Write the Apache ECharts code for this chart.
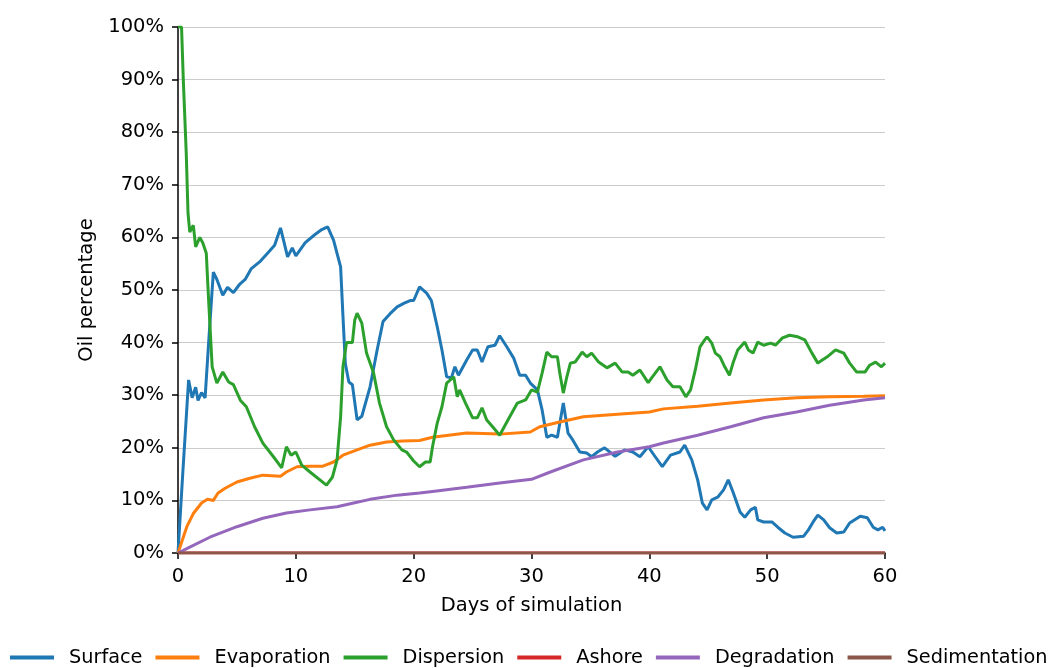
<!DOCTYPE html>
<html>
<head>
<meta charset="utf-8">
<script src="https://cdn.jsdelivr.net/npm/echarts@6/dist/echarts.min.js"></script>
<style>
  html, body { margin: 0; padding: 0; background: #fff; }
  #chart { width: 1051px; height: 668px; }
</style>
</head>
<body>
<div id="chart"></div>
<script>
// Oil weathering over 60 days of simulation

const seriesNames = ['Surface', 'Evaporation', 'Dispersion', 'Ashore', 'Degradation', 'Sedimentation'];
const seriesColors = ['#1f77b4', '#ff7f0e', '#2ca02c', '#d62728', '#9467bd', '#8c564b'];

// [day, percent]
const surface = [
  [0,0],[0.4,15],[0.9,32.9],[1.2,29.5],[1.5,31.5],[1.7,29],[2.0,30.5],[2.3,29.5],[2.6,40],[3.0,53.4],
  [3.3,52],[3.8,49],[4.2,50.5],[4.7,49.5],[5.2,51],[5.7,52],[6.2,54],[7.0,55.5],[7.6,57],[8.2,58.5],
  [8.7,61.8],[9.3,56.3],[9.7,58],[10.0,56.5],[10.8,59],[11.6,60.5],[12.2,61.5],[12.7,62],[13.2,59.5],
  [13.8,54.4],[14.0,45],[14.2,36],[14.5,32.5],[14.8,32],[15.2,25.3],[15.6,26],[16.3,31.6],[16.9,38.6],
  [17.4,44],[18.0,45.5],[18.6,46.8],[19.2,47.5],[19.7,48],[20.0,48],[20.5,50.6],[21.1,49.4],[21.5,48],
  [22.0,43],[22.4,38.6],[22.8,33.5],[23.2,33.3],[23.5,35.4],[23.8,33.8],[24.5,36.7],[25.0,38.6],
  [25.4,38.6],[25.8,36.3],[26.3,39.2],[26.9,39.5],[27.3,41.3],[27.9,39.2],[28.5,37],[29.0,33.8],
  [29.5,33.8],[29.9,32.3],[30.5,31],[30.9,27.2],[31.3,22],[31.7,22.4],[32.2,22],[32.7,28.5],[33.1,22.8],
  [33.5,21.5],[34.1,19.2],[34.7,19],[35.1,18.3],[35.6,19.2],[36.2,20],[37.1,18.4],[37.9,19.6],
  [38.6,19.2],[39.2,18.3],[39.9,20.2],[40.5,18.3],[41.1,16.4],[41.8,18.6],[42.6,19.2],[43.0,20.5],
  [43.6,17.7],[44.1,13.9],[44.5,9.5],[44.9,8.2],[45.3,10.1],[45.8,10.6],[46.3,12],[46.7,13.9],
  [47.1,11.6],[47.7,7.8],[48.1,6.8],[48.6,8.2],[49.0,8.7],[49.2,6.3],[49.7,5.9],[50.4,5.9],[50.9,4.9],
  [51.5,3.8],[52.2,3.0],[53.1,3.2],[53.5,4.4],[53.9,5.9],[54.3,7.2],[54.8,6.3],[55.3,4.8],[55.9,3.8],
  [56.5,4.0],[57.0,5.7],[57.9,7.0],[58.5,6.7],[59.0,4.9],[59.4,4.4],[59.8,4.9],[60,4.2]
];

const evaporation = [
  [0,0],[0.3,2],[0.75,5],[1.3,7.5],[2.0,9.5],[2.5,10.2],[3.0,10],[3.4,11.4],[4.0,12.3],[5.0,13.5],
  [6.1,14.2],[7.2,14.8],[8.7,14.6],[9.2,15.4],[10.1,16.4],[11.2,16.5],[12.3,16.5],[13.2,17.3],
  [14.0,18.6],[15.2,19.6],[16.3,20.5],[17.7,21.1],[19.1,21.3],[20.5,21.4],[21.6,22],[24.5,22.8],
  [27.3,22.6],[29.9,23],[30.7,24],[32.4,24.9],[34.4,25.9],[37.3,26.4],[40,26.8],[41.2,27.4],
  [44.1,27.9],[46.9,28.5],[49.7,29.1],[52.5,29.5],[55.3,29.7],[58.2,29.8],[60,29.9]
];

const dispersion = [
  [0,100],[0.3,100],[0.45,90],[0.7,76],[0.85,64.6],[1.0,61],[1.3,62.3],[1.5,58.2],[1.85,60],[2.1,59],
  [2.4,57],[2.6,48],[2.9,35.4],[3.3,32.3],[3.8,34.4],[4.3,32.5],[4.7,32],[5.3,29],[5.8,27.8],[6.5,24],
  [7.2,20.9],[8.1,18.3],[8.8,16.2],[9.2,20.2],[9.6,18.6],[10.0,19.2],[10.5,16.7],[11.2,15.4],
  [12.6,12.9],[13.1,14.4],[13.5,17.7],[13.8,25.9],[14.0,35.4],[14.3,40],[14.8,40],[15.0,44.3],
  [15.2,45.6],[15.6,43.7],[16.0,38],[16.6,34.2],[17.1,28.5],[17.7,24],[18.3,21.5],[19.0,19.6],
  [19.4,19.2],[20.0,17.5],[20.5,16.4],[21.0,17.3],[21.4,17.3],[21.6,20.2],[22.0,24.7],[22.4,27.8],
  [22.8,32.3],[23.4,33.5],[23.7,29.7],[23.9,31],[24.4,28.5],[25.0,25.7],[25.4,25.7],[25.8,27.6],
  [26.2,25.3],[26.7,24],[27.3,22.4],[28.0,25.3],[28.8,28.5],[29.5,29.1],[30.0,31],[30.5,30.6],
  [30.9,34.2],[31.3,38.2],[31.7,37.3],[32.2,37.3],[32.4,34.2],[32.7,30.4],[33.0,33.5],[33.3,36.1],
  [33.7,36.3],[34.3,38.2],[34.7,37.3],[35.1,38],[35.7,36.3],[36.4,35.2],[37.1,36.1],[37.7,34.4],
  [38.2,34.4],[38.6,33.8],[39.2,34.8],[39.9,32.4],[40.5,34.2],[40.9,35.4],[41.5,32.9],[42.0,31.6],
  [42.6,31.6],[43.1,29.7],[43.5,31],[43.9,34.8],[44.3,39.2],[44.7,40.5],[44.9,41.1],[45.3,39.9],
  [45.6,38],[46.0,37.3],[46.4,35.4],[46.8,33.8],[47.1,36.1],[47.5,38.6],[48.1,40.1],[48.4,38.6],
  [48.8,38],[49.2,40.1],[49.7,39.5],[50.3,39.9],[50.7,39.5],[51.3,40.9],[51.9,41.4],[52.6,41.1],
  [53.2,40.5],[53.8,38],[54.3,36.1],[55.1,37.3],[55.8,38.6],[56.5,38],[57.0,36.1],[57.6,34.4],
  [58.3,34.4],[58.7,35.7],[59.2,36.3],[59.7,35.4],[60,36.1]
];

const ashore = [[0,0],[60,0]];

const degradation = [
  [0,0],[1,1.1],[2.7,3],[5,5],[7.2,6.6],[9.2,7.6],[11.2,8.2],[13.5,8.8],[14.9,9.5],[16.3,10.2],
  [18.6,11],[20.5,11.4],[21.6,11.7],[24.5,12.5],[27.3,13.3],[30,14],[31.6,15.4],[34.4,17.7],
  [37.3,19.2],[40,20.2],[41.2,20.9],[44.1,22.4],[46.9,24],[49.7,25.7],[52.5,26.8],[55.3,28.1],
  [58.2,29.1],[60,29.5]
];

const sedimentation = [[0,0],[60,0]];

const allData = [surface, evaporation, dispersion, ashore, degradation, sedimentation];

const font = 'DejaVu Sans';
const chart = echarts.init(document.getElementById('chart'));

chart.setOption({
  animation: false,
  color: seriesColors,
  grid: { left: 178, right: 166, top: 27, bottom: 115 },
  legend: {
    data: seriesNames,
    top: 648,
    left: 10,
    width: 1100,
    padding: 0,
    icon: 'rect',
    itemWidth: 44,
    itemHeight: 4,
    itemGap: 13,
    textStyle: { fontFamily: font, fontSize: 19.3, color: '#000', padding: [0, 0, 0, 10] }
  },
  xAxis: {
    type: 'value',
    min: 0,
    max: 60,
    interval: 10,
    name: 'Days of simulation',
    nameLocation: 'middle',
    nameGap: 43,
    nameTextStyle: { fontFamily: font, fontSize: 19.5, color: '#000' },
    axisLine: { lineStyle: { color: '#000', width: 1.5 } },
    axisTick: { length: 6, lineStyle: { color: '#000', width: 1.5 } },
    axisLabel: { fontFamily: font, fontSize: 19.5, color: '#000', margin: 14 },
    splitLine: { show: false }
  },
  yAxis: {
    type: 'value',
    min: 0,
    max: 100,
    interval: 10,
    name: 'Oil percentage',
    nameLocation: 'middle',
    nameGap: 67,
    nameTextStyle: { fontFamily: font, fontSize: 19.5, color: '#000' },
    axisLine: { show: true, lineStyle: { color: '#000', width: 1.5 } },
    axisTick: { show: true, length: 6, lineStyle: { color: '#000', width: 1.5 } },
    axisLabel: { fontFamily: font, fontSize: 19.5, color: '#000', margin: 14, formatter: '{value}%' },
    splitLine: { show: true, lineStyle: { color: '#cccccc', width: 1.2 } }
  },
  series: seriesNames.map((name, i) => ({
    name,
    type: 'line',
    data: allData[i],
    showSymbol: false,
    symbol: 'none',
    lineStyle: { width: 3, color: seriesColors[i] },
    z: 2 + i
  }))
});
</script>
</body>
</html>
